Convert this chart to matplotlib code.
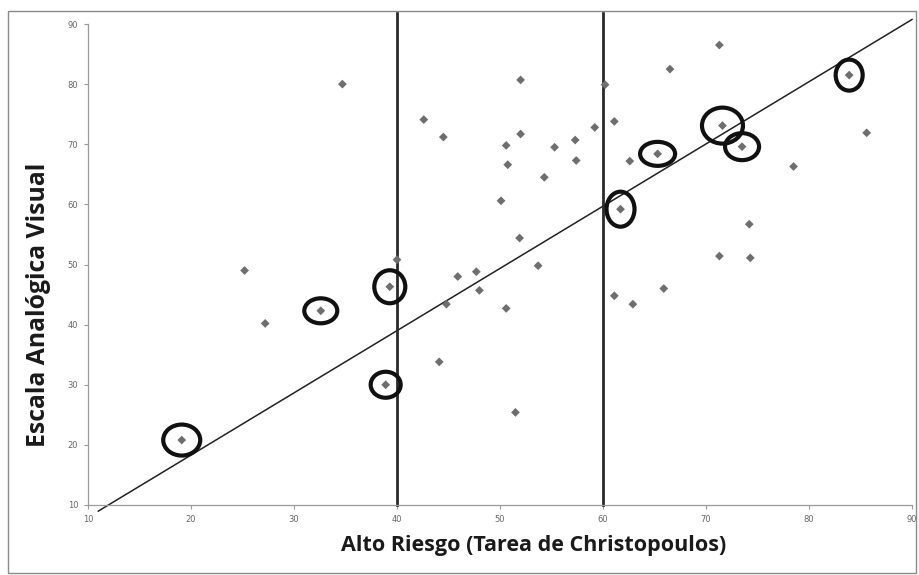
import matplotlib
matplotlib.use("Agg")
import matplotlib.pyplot as plt
from matplotlib.patches import Ellipse, Rectangle

# ---- data ----
x_vals = [34.7, 25.2, 27.2, 32.6, 19.1, 38.9, 39.3, 40.0, 42.6, 44.5,
          52.0, 50.6, 50.75, 52.0, 55.3, 57.3, 57.4, 54.3, 50.1, 51.9,
          59.2, 60.2, 61.1, 62.6, 61.7, 65.3, 66.5, 71.3, 71.6, 73.5,
          83.9, 85.6, 78.5, 74.2, 71.3, 74.3, 65.9, 61.1, 62.9, 45.9,
          47.7, 48.0, 44.8, 50.6, 53.7, 44.1, 51.5]
y_vals = [80.0, 49.0, 40.2, 42.3, 20.8, 30.0, 46.3, 50.8, 74.1, 71.2,
          80.7, 69.8, 66.6, 71.7, 69.5, 70.7, 67.3, 64.5, 60.6, 54.4,
          72.8, 79.9, 73.8, 67.2, 59.2, 68.4, 82.5, 86.5, 73.1, 69.6,
          81.5, 71.9, 66.3, 56.7, 51.4, 51.1, 46.0, 44.8, 43.4, 48.0,
          48.8, 45.7, 43.4, 42.7, 49.8, 33.8, 25.4]
highlighted = [3, 4, 5, 6, 24, 25, 28, 29, 30]   # indices of circled points
cutoffs = [40, 60]
trend_slope = 1.035
trend_intercept = -2.4
trend_x_range = [11.0, 90.0]
x_ticks = [10, 20, 30, 40, 50, 60, 70, 80, 90]
y_ticks = [10, 20, 30, 40, 50, 60, 70, 80, 90]
x_label = "Alto Riesgo (Tarea de Christopoulos)"
y_label = "Escala Analógica Visual"

# ---- figure ----
W, H, DPI = 919, 575, 100
fig = plt.figure(figsize=(W / DPI, H / DPI), dpi=DPI, facecolor="white")
ax = fig.add_axes([88 / W, 1 - 505 / H, (912 - 88) / W, (505 - 24) / H])
ax.set_xlim(10, 90)
ax.set_ylim(10, 90)

# figure border
fig.patches.append(Rectangle((8 / W, 1 - 573 / H), (916 - 8) / W, (573 - 11) / H,
                             transform=fig.transFigure, fill=False,
                             edgecolor="#8a8a8a", linewidth=1.0))

ax.scatter(x_vals, y_vals, marker="D", s=20, color="#6e6e6e",
           edgecolors="none", zorder=3)

# trend line
tx = trend_x_range
ty = [trend_slope * v + trend_intercept for v in tx]
ax.plot(tx, ty, color="#222222", linewidth=1.1, clip_on=False, zorder=2)

# vertical cut-off lines (extend a little above the plot)
for c in cutoffs:
    ax.plot([c, c], [10, 91.9], color="#2a2a2a", linewidth=2.0,
            clip_on=False, zorder=2)

# highlight circles (pixel sizes)
circle_px = [(33, 25), (37, 31), (30, 26), (31, 33), (28, 35),
             (35, 24), (41, 36), (34, 27), (27, 31)]
xs_per_px = 80 / (912 - 88)
ys_per_px = 80 / (505 - 24)
for idx, (wp, hp) in zip(highlighted, circle_px):
    e = Ellipse((x_vals[idx], y_vals[idx]), wp * xs_per_px, hp * ys_per_px,
                fill=False, edgecolor="#111111", linewidth=3.0, zorder=4)
    ax.add_patch(e)

for s in ["top", "right"]:
    ax.spines[s].set_visible(False)
for s in ["left", "bottom"]:
    ax.spines[s].set_color("#9a9a9a")
    ax.spines[s].set_linewidth(0.9)

ax.set_xticks(x_ticks)
ax.set_yticks(y_ticks)
ax.tick_params(axis="both", labelsize=6, colors="#9a9a9a", labelcolor="#666666",
               length=3, width=0.8, direction="out", pad=4)

fig.text(534 / W, 1 - 545 / H, x_label, ha="center", va="center",
         fontsize=15.5, fontweight="bold", family="Open Sans", color="#1a1a1a")
fig.text(39 / W, 1 - 305 / H, y_label, ha="center", va="center", rotation=90,
         fontsize=17.8, fontweight="bold", family="Open Sans", color="#1a1a1a")

fig.savefig("out.png", dpi=DPI, facecolor="white")
